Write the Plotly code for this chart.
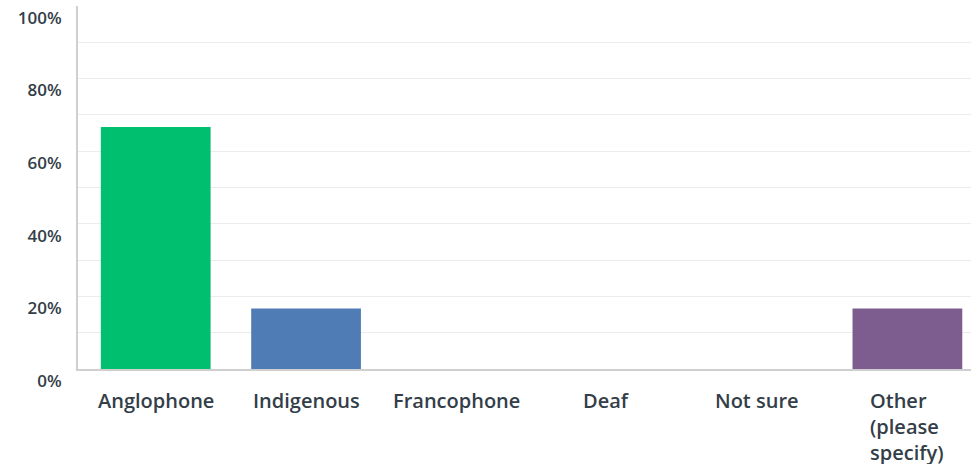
import plotly.graph_objects as go

categories = ["Anglophone", "Indigenous", "Francophone", "Deaf", "Not sure", "Other (please specify)"]
label_text = ["Anglophone", "Indigenous", "Francophone", "Deaf", "Not sure", "Other<br>(please<br>specify)"]
values = [66.67, 16.67, 0, 0, 0, 16.67]
colors = ["#00bf6f", "#507cb6", "#6bc8cd", "#f9be00", "#f05b24", "#7d5c8f"]
y_ticks = [0, 20, 40, 60, 80, 100]
y_tick_labels = ["0%", "20%", "40%", "60%", "80%", "100%"]

FONT = "Open Sans"
TXT = "#333e48"

fig = go.Figure(go.Bar(
    x=categories, y=values, marker=dict(color=colors, line=dict(width=0)),
    hoverinfo="skip",
))

for cat, lab in zip(categories, label_text):
    fig.add_annotation(
        x=cat, xref="x", y=0, yref="paper", yanchor="top", yshift=-16,
        text=lab, showarrow=False, align="left",
        font=dict(family=FONT, size=20, color=TXT, weight=600),
    )

fig.update_layout(
    width=971, height=464,
    margin=dict(l=78, r=0, t=6, b=95),
    paper_bgcolor="white", plot_bgcolor="white",
    bargap=0.27, showlegend=False,
    font=dict(family=FONT, size=17, color=TXT, weight=600),
)
fig.update_xaxes(
    range=[-0.517, 5.423], showticklabels=False, showgrid=False,
    showline=True, linecolor="#cfcfcf", linewidth=2, ticks="",
    fixedrange=True, automargin=False,
)
fig.update_yaxes(
    range=[0, 100], tickvals=y_ticks, ticktext=y_tick_labels,
    showgrid=True, gridcolor="#ececec", gridwidth=1,
    minor=dict(dtick=10, showgrid=True, gridcolor="#ececec", gridwidth=1),
    showline=True, linecolor="#cfcfcf", linewidth=2,
    ticks="", ticklabelstandoff=11, ticklabelposition="outside bottom",
    zeroline=False, fixedrange=True, automargin=False,
    tickfont=dict(family=FONT, size=17, color=TXT, weight=600),
)

fig.write_html("out.html", config={"displayModeBar": False},
               post_script="document.body.style.margin='0px';")
